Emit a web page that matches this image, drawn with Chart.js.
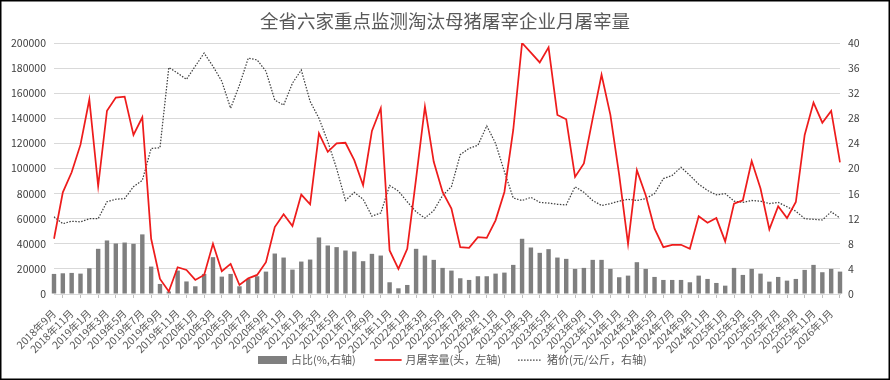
<!DOCTYPE html>
<html><head><meta charset="utf-8">
<script src="https://cdn.jsdelivr.net/npm/chart.js@4.4.1/dist/chart.umd.min.js"></script>
<style>html,body{margin:0;padding:0;background:#fff;}#wrap{width:890px;height:380px;position:relative;}</style>
</head><body><div id="wrap"><canvas id="c" width="890" height="380"></canvas></div>
<script>
const titleText = '全省六家重点监测淘汰母猪屠宰企业月屠宰量';
const seriesNames = ['占比(%,右轴)', '月屠宰量(头，左轴)', '猪价(元/公斤，右轴)'];
const categories = [
'2018年9月','2018年10月','2018年11月','2018年12月',
'2019年1月','2019年2月','2019年3月','2019年4月','2019年5月','2019年6月','2019年7月','2019年8月','2019年9月','2019年10月','2019年11月','2019年12月',
'2020年1月','2020年2月','2020年3月','2020年4月','2020年5月','2020年6月','2020年7月','2020年8月','2020年9月','2020年10月','2020年11月','2020年12月',
'2021年1月','2021年2月','2021年3月','2021年4月','2021年5月','2021年6月','2021年7月','2021年8月','2021年9月','2021年10月','2021年11月','2021年12月',
'2022年1月','2022年2月','2022年3月','2022年4月','2022年5月','2022年6月','2022年7月','2022年8月','2022年9月','2022年10月','2022年11月','2022年12月',
'2023年1月','2023年2月','2023年3月','2023年4月','2023年5月','2023年6月','2023年7月','2023年8月','2023年9月','2023年10月','2023年11月','2023年12月',
'2024年1月','2024年2月','2024年3月','2024年4月','2024年5月','2024年6月','2024年7月','2024年8月','2024年9月','2024年10月','2024年11月','2024年12月',
'2025年1月','2025年2月','2025年3月','2025年4月','2025年5月','2025年6月','2025年7月','2025年8月','2025年9月','2025年10月','2025年11月','2025年12月',
'2026年1月','2026年2月'];
// 占比 (%, right axis)
const shareValues = [
3.2,3.3,3.36,3.25,4.1,7.2,8.53,8.05,8.2,8.0,9.5,4.37,1.6,0.4,3.73,2.0,
1.23,3.2,5.87,2.77,3.2,1.23,2.4,2.83,3.57,6.45,5.81,3.89,
5.17,5.49,9.01,7.73,7.47,6.93,6.77,5.23,6.4,6.13,1.87,0.91,
1.44,7.2,6.13,5.44,4.16,3.73,2.51,2.24,2.83,2.83,3.25,3.41,
4.64,8.8,7.41,6.56,7.15,5.81,5.6,4.0,4.16,5.44,5.44,4.0,
2.67,2.93,5.07,4.0,2.72,2.24,2.24,2.24,1.87,2.93,2.4,1.76,
1.33,4.16,3.04,4.0,3.25,1.97,2.72,2.13,2.4,3.84,4.64,3.47,
4.0,3.57];
// 月屠宰量 (头, left axis)
const slaughterValues = [
44000,81000,97000,119000,155000,86000,146000,156500,157300,126700,140800,44000,12000,2000,21300,19200,
11200,15200,40000,18100,24000,7200,12500,15200,25300,53300,63500,54100,
79200,71500,128000,113300,120000,120500,106700,86700,129900,148000,34700,20000,
36000,92000,149300,105300,81300,68000,37300,36800,45300,44800,58700,81300,
130700,200000,192300,184500,196500,142700,139200,93300,104000,140000,174700,142700,
94700,40000,98700,78700,52000,37300,39200,39200,36000,61900,56800,60500,
41900,72000,74700,105900,84000,51500,69900,60500,73300,126700,152500,136500,
145900,104800];
// 猪价 (元/公斤, right axis)
const priceValues = [
12.3,11.2,11.6,11.5,12.0,12.0,14.7,15.1,15.2,17.1,18.1,23.2,23.3,36.1,35.2,34.2,
36.3,38.4,36.3,33.9,29.6,33.3,37.6,37.3,35.5,30.9,30.1,33.6,
35.7,30.7,28.0,24.3,20.0,14.9,16.2,15.1,12.4,12.9,17.3,16.4,
14.7,13.1,12.1,13.3,15.7,17.1,22.2,23.2,23.7,26.8,24.0,19.5,
15.3,14.9,15.4,14.6,14.5,14.3,14.2,17.1,16.2,14.9,14.1,14.4,
14.8,15.1,14.9,15.2,16.0,18.4,18.9,20.2,18.9,17.5,16.5,15.8,
16.0,14.8,14.6,14.9,14.8,14.4,14.6,13.9,13.2,12.0,11.9,11.8,
13.1,12.1];
const leftTicks = [0,20000,40000,60000,80000,100000,120000,140000,160000,180000,200000];
const rightTicks = [0,4,8,12,16,20,24,28,32,36,40];

const FAM = '"Noto Sans CJK SC", "Liberation Sans", sans-serif';
const COLORS = {bar:'#7f7f7f', red:'#ee1c1c', price:'#404040', grid:'#d9d9d9', text:'#595959', tick:'#404040'};

const bgBorder = {
  id:'bgBorder',
  beforeDraw(chart){const c=chart.ctx;c.save();c.fillStyle='#fff';c.fillRect(0,0,chart.width,chart.height);c.restore();},
  afterDraw(chart){
    const c=chart.ctx;c.save();
    c.font='11px '+FAM;c.textBaseline='middle';c.fillStyle=COLORS.text;
    const y=360;let x=258;
    c.fillStyle=COLORS.bar;c.fillRect(x,y-4,29,8);x+=33;
    c.fillStyle=COLORS.text;c.fillText(seriesNames[0],x,y);x+=c.measureText(seriesNames[0]).width+19;
    c.strokeStyle=COLORS.red;c.lineWidth=1.75;c.beginPath();c.moveTo(x,y);c.lineTo(x+27,y);c.stroke();x+=31;
    c.fillText(seriesNames[1],x,y);x+=c.measureText(seriesNames[1]).width+17;
    c.strokeStyle=COLORS.price;c.lineWidth=1.25;c.setLineDash([1.5,1.5]);c.beginPath();c.moveTo(x,y);c.lineTo(x+24,y);c.stroke();c.setLineDash([]);x+=29;
    c.fillText(seriesNames[2],x,y);
    c.strokeStyle='#000';c.lineWidth=1.5;c.strokeRect(0.75,0.75,888.5,378.5);
    c.restore();
  }
};

new Chart(document.getElementById('c'), {
  data: {
    labels: categories,
    datasets: [
      {type:'line', label:seriesNames[1], data:slaughterValues, yAxisID:'y', borderColor:COLORS.red, borderWidth:1.75, pointRadius:0, tension:0, order:1},
      {type:'line', label:seriesNames[2], data:priceValues, yAxisID:'y1', borderColor:COLORS.price, borderWidth:1.25, borderDash:[1.5,1.5], pointRadius:0, tension:0, order:2},
      {type:'bar', label:seriesNames[0], data:shareValues, yAxisID:'y1', backgroundColor:COLORS.bar, barPercentage:0.5, categoryPercentage:1.0, order:3, clip:false}
    ]
  },
  options: {
    responsive:false, animation:false, devicePixelRatio:1,
    layout:{padding:{top:9,left:0,right:0,bottom:0}},
    plugins:{
      legend:{display:false}, tooltip:{enabled:false},
      title:{display:true, text:titleText, color:COLORS.text, font:{size:18.5, weight:'normal', family:FAM}, padding:{top:1,bottom:10.8}}
    },
    scales:{
      x:{type:'category', offset:false,
         grid:{display:true, drawOnChartArea:false, drawTicks:true, tickLength:4, color:'#bfbfbf'},
         border:{display:true, color:COLORS.grid},
         ticks:{autoSkip:false, maxRotation:45, minRotation:45, padding:9, color:COLORS.text, font:{size:10.5, family:FAM},
                callback:(v,i)=> i%2===0 ? categories[i] : null},
         afterFit:s=>{s.height=86;}},
      y:{position:'left', min:0, max:200000,
         afterBuildTicks:s=>{s.ticks=leftTicks.map(v=>({value:v}));},
         grid:{color:COLORS.grid, drawTicks:false}, border:{display:false},
         ticks:{padding:8, color:COLORS.tick, font:{size:10.5, family:FAM}, callback:v=>String(v)},
         afterFit:s=>{s.width=54;}},
      y1:{position:'right', min:0, max:40,
         afterBuildTicks:s=>{s.ticks=rightTicks.map(v=>({value:v}));},
         grid:{drawOnChartArea:false, drawTicks:false}, border:{display:false},
         ticks:{padding:8, color:COLORS.tick, font:{size:10.5, family:FAM}, callback:v=>String(v)},
         afterFit:s=>{s.width=50;}}
    }
  },
  plugins:[bgBorder]
});
</script></body></html>
